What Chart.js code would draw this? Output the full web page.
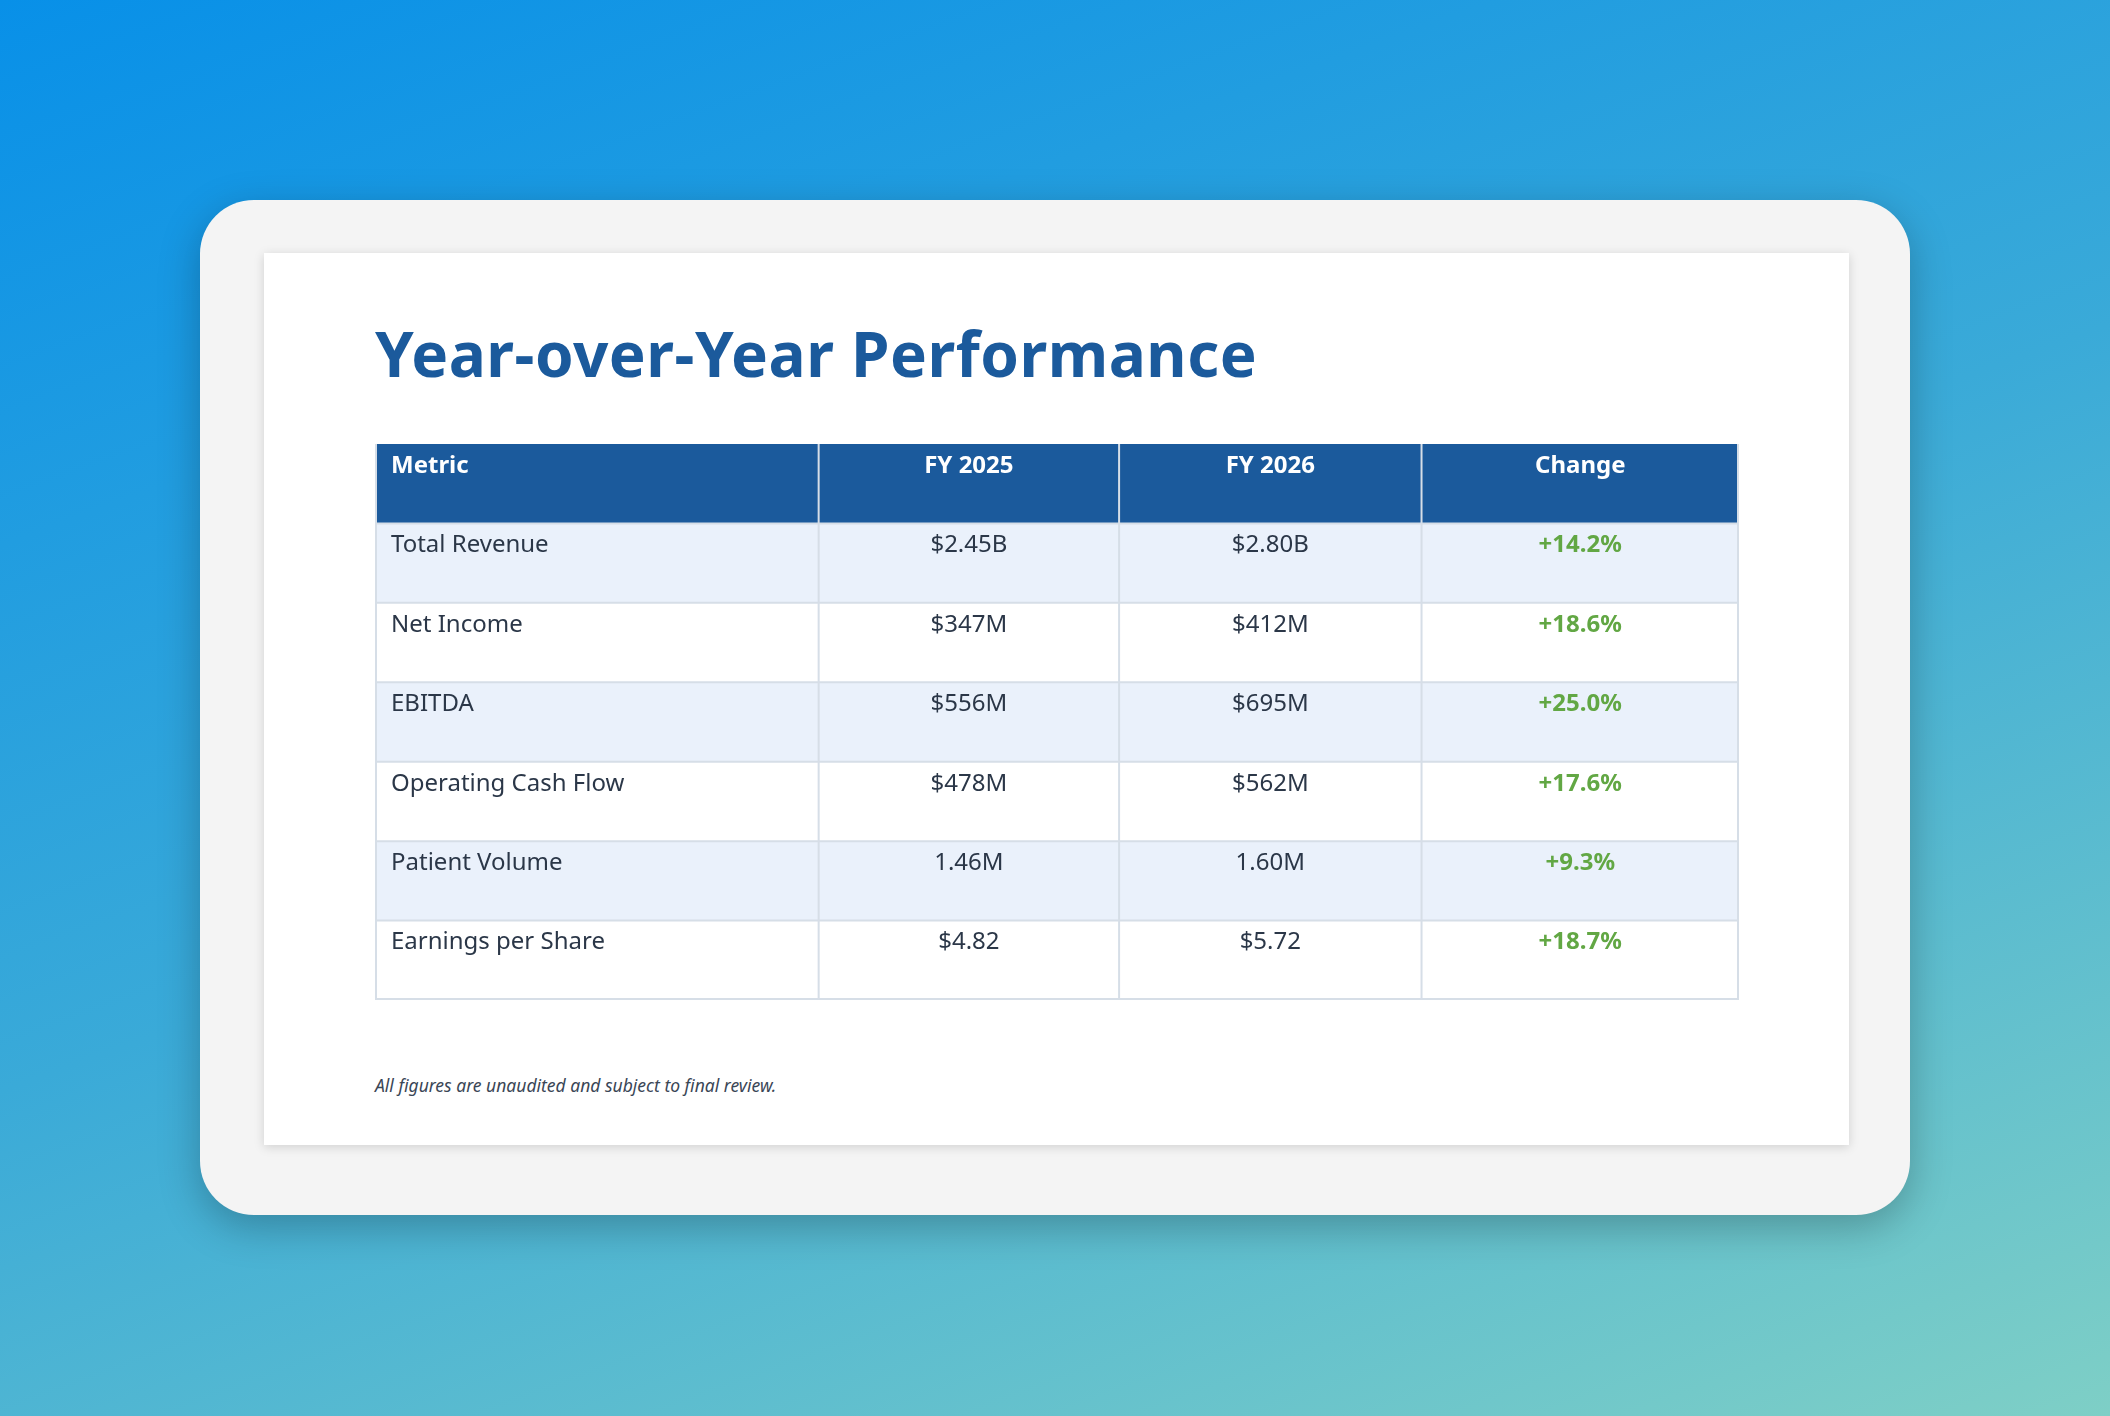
<!DOCTYPE html>
<html>
<head>
<meta charset="utf-8">
<script src="https://cdn.jsdelivr.net/npm/chart.js@4"></script>
<style>
  html, body { margin: 0; padding: 0; }
  body {
    width: 2110px; height: 1416px; overflow: hidden;
    background: linear-gradient(160deg, #0890e8 0%, #3aaad8 50%, #7ecfc6 100%);
    font-family: "Noto Sans", "Open Sans", sans-serif;
  }
  .card {
    position: absolute; left: 200px; top: 200px; width: 1710px; height: 1015px;
    background: #f4f4f4; border-radius: 54px;
    box-shadow: 0 12px 40px rgba(0,0,0,0.25);
  }
  .sheet {
    position: absolute; left: 64px; top: 53px; width: 1585px; height: 892px;
    background: #fff; box-shadow: 0 2px 10px rgba(0,0,0,0.15);
  }
  h1 {
    position: absolute; left: 111px; top: 58px; margin: 0;
    font-size: 62px; font-weight: 700; color: #1b5a9c; letter-spacing: 0.5px;
  }
  .wrap { position: absolute; left: 111px; top: 191px; width: 1364px; height: 556px; }
  .note {
    position: absolute; left: 111px; top: 820px; margin: 0;
    font-size: 17.5px; font-style: italic; color: #3a4656;
  }
</style>
</head>
<body>
<div class="card">
  <div class="sheet">
    <h1>Year-over-Year Performance</h1>
    <div class="wrap"><canvas id="tbl"></canvas></div>
    <p class="note">All figures are unaudited and subject to final review.</p>
  </div>
</div>
<script>
const columns = ["Metric", "FY 2025", "FY 2026", "Change"];
const metrics = ["Total Revenue", "Net Income", "EBITDA", "Operating Cash Flow", "Patient Volume", "Earnings per Share"];
const fy2025 = ["$2.45B", "$347M", "$556M", "$478M", "1.46M", "$4.82"];
const fy2026 = ["$2.80B", "$412M", "$695M", "$562M", "1.60M", "$5.72"];
const change = ["+14.2%", "+18.6%", "+25.0%", "+17.6%", "+9.3%", "+18.7%"];

const colWidths = [443, 300, 302, 317];
const rowLabels = ["header"].concat(metrics);

const tablePlugin = {
  id: "tablePlugin",
  afterDraw(chart) {
    const ctx = chart.ctx;
    const ys = chart.scales.y;
    const area = chart.chartArea;
    const total = colWidths.reduce((a, b) => a + b, 0);
    const scale = (area.right - area.left) / total;
    const edges = [area.left];
    colWidths.forEach(w => edges.push(edges[edges.length - 1] + w * scale));
    const rowH = (area.bottom - area.top) / rowLabels.length;
    const cells = [metrics, fy2025, fy2026, change];

    rowLabels.forEach((r, i) => {
      const top = ys.getPixelForValue(i) - rowH / 2;
      ctx.fillStyle = i === 0 ? "#1b5a9c" : (i % 2 === 1 ? "#eaf1fb" : "#ffffff");
      ctx.fillRect(area.left, top, area.right - area.left, rowH);
      for (let c = 0; c < columns.length; c++) {
        const text = i === 0 ? columns[c] : cells[c][i - 1];
        const bold = i === 0 || c === 3;
        ctx.font = (bold ? "700 " : "400 ") + "24px 'Noto Sans', sans-serif";
        ctx.fillStyle = i === 0 ? "#ffffff" : (c === 3 ? "#62a744" : "#2b3748");
        ctx.textBaseline = "top";
        if (c === 0) {
          ctx.textAlign = "left";
          ctx.fillText(text, edges[0] + 16, top + 10);
        } else {
          ctx.textAlign = "center";
          ctx.fillText(text, (edges[c] + edges[c + 1]) / 2, top + 10);
        }
      }
    });

    ctx.strokeStyle = "#d6dee7";
    ctx.lineWidth = 2;
    rowLabels.forEach((r, i) => {
      if (i === 0) return;
      const y = ys.getPixelForValue(i) - rowH / 2;
      ctx.beginPath(); ctx.moveTo(area.left, y); ctx.lineTo(area.right, y); ctx.stroke();
    });
    ctx.beginPath(); ctx.moveTo(area.left, area.bottom - 1); ctx.lineTo(area.right, area.bottom - 1); ctx.stroke();
    edges.forEach((x, k) => {
      const xx = k === 0 ? x + 1 : (k === edges.length - 1 ? x - 1 : x);
      ctx.beginPath(); ctx.moveTo(xx, area.top); ctx.lineTo(xx, area.bottom); ctx.stroke();
    });
  }
};

new Chart(document.getElementById("tbl"), {
  type: "scatter",
  data: { datasets: [{ data: [] }] },
  options: {
    responsive: true,
    maintainAspectRatio: false,
    animation: false,
    devicePixelRatio: 1,
    layout: { padding: 0 },
    plugins: { legend: { display: false }, tooltip: { enabled: false } },
    scales: {
      x: { type: "linear", min: 0, max: 1, display: false },
      y: { type: "category", labels: rowLabels, offset: true, display: false }
    }
  },
  plugins: [tablePlugin]
});
</script>
</body>
</html>
